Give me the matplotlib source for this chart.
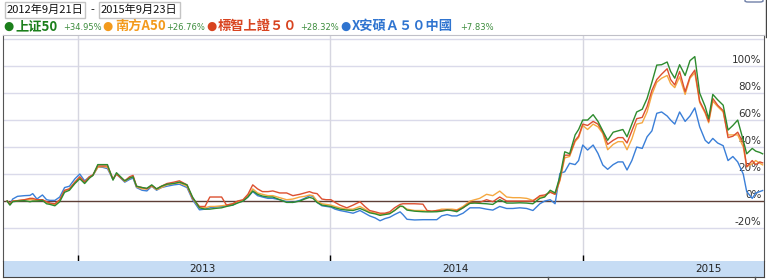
import matplotlib
matplotlib.use("Agg")
import matplotlib.pyplot as plt
import matplotlib.transforms as mtransforms
import pandas as pd
from matplotlib.patches import Rectangle, FancyBboxPatch
from matplotlib.lines import Line2D

plt.rcParams['font.family'] = ['Noto Sans CJK SC', 'DejaVu Sans']

# 日付 (週足を目で読み取り)
dates = [
    '2012-09-21', '2012-09-25', '2012-09-29', '2012-10-06', '2012-10-16', '2012-10-24',
    '2012-10-28', '2012-11-03', '2012-11-11', '2012-11-17', '2012-11-22', '2012-11-29',
    '2012-12-06', '2012-12-13', '2012-12-20', '2012-12-28', '2013-01-04', '2013-01-11',
    '2013-01-18', '2013-01-23', '2013-01-30', '2013-02-06', '2013-02-13', '2013-02-21',
    '2013-02-26', '2013-03-06', '2013-03-10', '2013-03-17', '2013-03-22', '2013-03-27',
    '2013-04-04', '2013-04-11', '2013-04-18', '2013-04-25', '2013-05-02', '2013-05-10',
    '2013-05-20', '2013-05-28', '2013-06-08', '2013-06-16', '2013-06-26', '2013-07-04',
    '2013-07-11', '2013-07-18', '2013-07-28', '2013-08-04', '2013-08-13', '2013-08-20',
    '2013-08-28', '2013-09-04', '2013-09-11', '2013-09-18', '2013-09-25', '2013-10-03',
    '2013-10-10', '2013-10-20', '2013-10-30', '2013-11-08', '2013-11-18', '2013-11-25',
    '2013-12-02', '2013-12-07', '2013-12-13', '2013-12-20', '2013-12-26', '2014-01-02',
    '2014-01-08', '2014-01-15', '2014-01-25', '2014-02-03', '2014-02-13', '2014-02-20',
    '2014-02-27', '2014-03-07', '2014-03-14', '2014-03-21', '2014-03-28', '2014-04-04',
    '2014-04-12', '2014-04-16', '2014-04-22', '2014-05-03', '2014-05-15', '2014-05-21',
    '2014-05-28', '2014-06-04', '2014-06-11', '2014-06-19', '2014-06-26', '2014-07-03',
    '2014-07-12', '2014-07-22', '2014-07-29', '2014-08-05', '2014-08-15', '2014-08-24',
    '2014-09-03', '2014-09-13', '2014-09-22', '2014-10-02', '2014-10-12', '2014-10-21',
    '2014-10-31', '2014-11-07', '2014-11-15', '2014-11-22', '2014-11-29', '2014-12-06',
    '2014-12-13', '2014-12-21', '2014-12-26', '2015-01-01', '2015-01-08', '2015-01-16',
    '2015-01-23', '2015-01-30', '2015-02-06', '2015-02-14', '2015-02-21', '2015-02-28',
    '2015-03-06', '2015-03-13', '2015-03-20', '2015-03-28', '2015-04-04', '2015-04-11',
    '2015-04-18', '2015-04-25', '2015-05-03', '2015-05-08', '2015-05-14', '2015-05-21',
    '2015-05-29', '2015-06-05', '2015-06-12', '2015-06-19', '2015-06-27', '2015-07-02',
    '2015-07-08', '2015-07-15', '2015-07-23', '2015-07-30', '2015-08-06', '2015-08-13',
    '2015-08-21', '2015-08-26', '2015-09-03', '2015-09-08', '2015-09-14', '2015-09-18',
]

# 上证50
sse50 = [
    0, -3, -0.5, 0, 0.3, -0.5, 0, 0, 0.5, -2, -2.5, -3.5,
    -0.5, 6.5, 8, 13, 16.5, 13, 17, 19, 27, 27, 27, 15.5,
    21, 17, 15, 17, 18, 11, 10, 9.5, 12, 9, 11, 12.5,
    13, 14, 12, 3, -5, -6, -6, -5.5, -5, -4, -3, -1.5,
    0, 3, 7.5, 5, 3.7, 3, 3, 1, -1, -1, 0, 1.5,
    2.7, 2, -1, -3, -3.5, -4, -5, -6, -6.7, -7, -5.5, -7,
    -8.7, -9.5, -10.6, -10, -9.4, -7, -3.7, -4, -6.7, -7.5, -7.9, -8,
    -8, -7.9, -7.5, -6.7, -7, -7.9, -5, -1.7, -1.5, -1.7, -2, -2.5,
    1, -1.5, -1.5, -1.3, -1.5, -2,
    2, 3, 8, 6, 18, 36.5, 35, 49, 53, 60, 60, 64,
    59, 52, 45, 51, 52, 53, 47.6, 57, 66, 68, 76, 88,
    100.7, 101, 103, 96, 91, 101, 93, 104, 107, 80, 70, 61,
    79, 75, 71, 52.6, 56, 60, 45, 35, 39, 37, 36, 35,
]

# 南方A50
nanfang = [
    0, -2.5, 0, 0.3, 1, 1, 1, 0.5, 1, -1, -2, -2.5,
    0.5, 7.5, 9, 14, 17.5, 14, 18, 19, 25, 25.5, 25, 16,
    20, 16.5, 14.5, 17, 18, 10.5, 9, 9, 11, 8.5, 10, 12,
    13, 13.5, 11, 2, -5, -5, -4, -4, -3.5, -3, -2, -0.5,
    0.5, 4, 9, 6, 5, 4, 4, 2.5, 1, 1.5, 3, 3.5,
    4.5, 4, 0, -2, -2.5, -3, -4, -5, -6, -6, -4, -6,
    -8, -9, -10, -9.5, -9, -7, -4, -4, -6, -7, -7, -7.5,
    -7.5, -7, -6, -6, -6, -6.5, -4, 0, 1, 2, 5, 4,
    7.4, 3, 2.5, 2.5, 2, 0.5,
    3, 3.5, 7, 5, 15, 32, 33, 44, 47, 56, 53, 57,
    55, 50, 38, 42, 44, 44, 38, 46, 57, 58, 66, 79,
    88, 91, 93, 87, 84, 92, 79, 91, 95, 73, 65, 58,
    74, 70, 66, 49, 49, 49, 40, 25.4, 27.7, 30, 28, 26.8,
]

# 標智上證50
biaozhi = [
    0, -2, 0, 0.3, 1, 2, 2, 1, 1, -0.5, -1.5, -2,
    1, 8, 9, 14, 18, 14, 18, 19.5, 26, 26, 26, 16.5,
    20, 16.5, 15, 18, 19, 11, 10, 9, 11.5, 9, 11, 13,
    14, 15, 12, 2, -4, -4, 3, 3, 3, -3, -2, 0,
    1, 5, 12, 9, 7, 7, 7.5, 6, 6, 4, 5, 6,
    7, 6, 5.5, 1.5, 1, 1, -1, -3, -5, -3, -0.5, -4,
    -7, -8, -9, -9, -8, -5, -2.5, -2, -2, -2, -2.3, -7,
    -7.5, -7, -7, -6.5, -7, -7, -5, -1, -1, -1, 1, -0.5,
    3, 0, 0, 0, 0, 0,
    4, 4.5, 6.5, 5, 16, 34, 34, 45, 48, 57, 56, 59,
    57, 51, 42, 45, 47, 47, 43, 52, 61, 62, 70, 82,
    90, 94, 98, 90, 86, 96, 81, 92, 97, 74, 66, 59,
    76, 71, 67, 47, 48, 51, 43, 25.4, 30, 27, 29, 28.3,
]

# X安碩A50中國
anshuo = [
    0, -2.5, 1.5, 3.5, 4, 4.2, 5.5, 1.5, 4.5, 1, 0.5, 0.5,
    3, 10, 11, 16.5, 20, 15, 18, 19, 25, 25, 24, 16,
    20, 16, 14, 16, 17, 10, 8, 7.5, 11, 8, 10, 11,
    12, 12.5, 10, 1, -6.5, -6, -5, -4.5, -4, -3.5, -3, -1,
    0, 3, 7, 4, 3, 2, 2, 1, -0.5, -1, 0.5, 2,
    4, 3.5, -1, -3.5, -4, -4.5, -6, -7, -8, -9, -7, -9,
    -11, -12.5, -14.6, -13, -12, -10, -8, -10, -13.5, -14, -13.8, -13.8,
    -13.8, -13.8, -11, -10, -11, -11, -9, -5, -5, -5, -6, -6.7,
    -4, -5.5, -5.5, -5, -5.5, -7,
    -2, 0, 1, -2, 20.5, 21.7, 28, 27, 30, 41.5, 37.8, 41.5,
    35.3, 26.7, 23.5, 27, 29, 29, 23, 30, 40, 39, 47.6, 52,
    65, 66, 63, 60, 57, 66, 59, 63, 69, 55, 45, 42.7,
    46.4, 43, 41, 30, 33, 29, 20, 7, 2, 5.9, 7, 7.8,
]

names = ['上证50', '南方A50', '標智上證５０', 'X安碩Ａ５０中國']
changes = ['+34.95%', '+26.76%', '+28.32%', '+7.83%']
colors = ['#1b7f1b', '#f39a1c', '#d8431f', '#2f74d0']
line_colors = ['#2e8b2e', '#f5a840', '#dc5030', '#3a7fd8']
pct_ticks = [-20, 0, 20, 40, 60, 80, 100, 120]
years = [2013, 2014, 2015]
start_label = '2012年9月21日'
end_label = '2015年9月23日'

W, H = 767, 280
x = pd.to_datetime(dates)
series = [sse50, nanfang, biaozhi, anshuo]

fig = plt.figure(figsize=(W / 100, H / 100), dpi=100)
fig.patch.set_facecolor('white')

ax = fig.add_axes([3 / W, 19 / H, 761 / W, 226 / H])
ax.set_xlim(pd.Timestamp('2012-09-15'), pd.Timestamp('2015-09-20'))
ax.set_ylim(-44.4, 123.0)

trans = mtransforms.blended_transform_factory(ax.transAxes, ax.transData)
for t in pct_ticks:
    if t != 0:
        ax.axhline(t, color='#dadaea', lw=1, zorder=0)
    ax.text(0.997, t + 0.6, f'{t}%', transform=trans, ha='right', va='bottom',
            fontsize=7.5, color='#333333', family='DejaVu Sans', clip_on=True, zorder=1)
ax.axhline(0, color='#5e3f36', lw=1, zorder=1.5)

for y in years:
    ax.axvline(pd.Timestamp(f'{y}-01-01'), color='#d6d6e0', lw=1, zorder=0)

# 線 (青→橙→赤→緑の順に重ねる)
for i in [3, 1, 2, 0]:
    ax.plot(x, series[i], color=line_colors[i], lw=1.0, zorder=3)

ax.set_xticks([pd.Timestamp(f'{y}-01-01') for y in years])
ax.tick_params(axis='x', direction='in', length=4, width=1, color='black', labelbottom=False)
ax.set_yticks([])
for s in ['left', 'right']:
    ax.spines[s].set_color('#555555')
ax.spines['top'].set_color('#c0c0c8')
ax.spines['bottom'].set_visible(False)

# 年ラベルの帯
band = fig.add_axes([3 / W, 3 / H, 761 / W, 16 / H])
band.set_facecolor('#c6dcf4')
band.set_xlim(ax.get_xlim())
band.set_ylim(0, 1)
for y in years:
    band.text(pd.Timestamp(f'{y}-07-01'), 0.5, str(y), ha='center', va='center',
              fontsize=7.5, color='#222222', family='DejaVu Sans')
band.set_xticks([])
band.set_yticks([])
for s in ['left', 'right', 'bottom']:
    band.spines[s].set_color('#444444')
band.spines['top'].set_visible(False)


def fx(px):
    return px / W


def fy(py):
    return 1 - py / H


# 期間ボックス
for x0, x1, label in [(5, 85, start_label), (99, 180, end_label)]:
    fig.add_artist(Rectangle((fx(x0), fy(18)), (x1 - x0) / W, 16 / H, transform=fig.transFigure,
                             fill=False, ec='#c4c4c4', lw=1))
    fig.text(fx(x0 + 2), fy(10), label, ha='left', va='center', fontsize=8, color='#111111')
fig.text(fx(92), fy(10), '-', ha='center', va='center', fontsize=8, color='#111111')

# 凡例
dot_x = [8, 107, 211, 345]
name_x = [15, 115, 218, 352]
chg_x = [63, 166, 300, 460]
for i in range(4):
    fig.text(fx(dot_x[i]), fy(26), '●', ha='center', va='center', fontsize=8.5,
             color=colors[i], family='DejaVu Sans')
    fig.text(fx(name_x[i]), fy(26), names[i], ha='left', va='center', fontsize=9.5,
             fontweight='bold', color=colors[i])
    fig.text(fx(chg_x[i]), fy(27), changes[i], ha='left', va='center', fontsize=6,
             color='#3c8c3c', family='DejaVu Sans')

# 右上の小さなボタン枠と下部の枠線
fig.add_artist(FancyBboxPatch((fx(745), fy(2)), 18 / W, 6 / H, boxstyle='round,pad=0,rounding_size=0.004',
                              transform=fig.transFigure, fill=False, ec='#7080a8', lw=1))
fig.add_artist(Line2D([fx(548), fx(548)], [0, fy(277)], transform=fig.transFigure, color='#555555', lw=1))
fig.add_artist(Line2D([fx(755), fx(755)], [0, fy(277)], transform=fig.transFigure, color='#555555', lw=1))
fig.add_artist(Line2D([fx(766), fx(766)], [fy(0), fy(37)], transform=fig.transFigure, color='#444444', lw=1))

fig.savefig('out.png', dpi=100)
